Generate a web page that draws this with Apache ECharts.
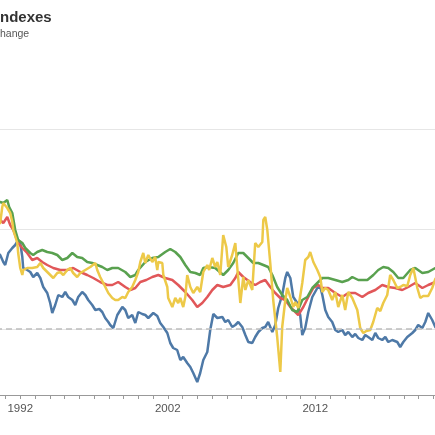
<!DOCTYPE html>
<html>
<head>
<meta charset="utf-8">
<script src="https://cdn.jsdelivr.net/npm/echarts@6/dist/echarts.min.js"></script>
<style>
  html, body { margin: 0; padding: 0; overflow: hidden; background: #fff; }
  /* the chart is wider than the window, its left edge is cut off like the reference */
  #chart { position: absolute; left: -60px; top: 0; width: 520px; height: 435px; }
</style>
</head>
<body>
<div id="chart"></div>
<script>
  // texts
  const titleText = "Consumer Price Indexes";
  const subText = "12-month percent change";
  const labelYears = [1992, 2002, 2012];

  // [year, percent] per series
  const blueData = [
    [1990.31,1.58],[1990.64,1.48],[1990.85,1.34],[1990.98,1.28],[1991.19,1.52],[1991.46,1.62],[1991.66,1.68],[1991.86,1.78],
    [1992.00,1.72],[1992.14,1.44],[1992.20,1.22],[1992.47,1.18],[1992.68,1.14],[1992.88,1.04],[1993.15,1.12],[1993.36,1.02],
    [1993.56,0.84],[1993.83,0.72],[1994.03,0.52],[1994.17,0.32],[1994.37,0.48],[1994.58,0.68],[1994.85,0.64],[1995.05,0.74],
    [1995.25,0.64],[1995.53,0.58],[1995.73,0.48],[1995.93,0.64],[1996.20,0.74],[1996.41,0.68],[1996.61,0.58],[1996.88,0.48],
    [1997.09,0.38],[1997.36,0.40],[1997.56,0.34],[1997.76,0.22],[1997.97,0.14],[1998.10,0.08],[1998.31,0.02],[1998.58,0.28],
    [1998.92,0.44],[1999.12,0.38],[1999.32,0.22],[1999.59,0.28],[1999.80,0.12],[2000.00,0.34],[2000.27,0.30],[2000.48,0.28],
    [2000.68,0.22],[2001.02,0.32],[2001.29,0.26],[2001.49,0.12],[2001.70,0.04],[2001.97,-0.08],[2002.17,-0.28],[2002.37,-0.38],
    [2002.64,-0.42],[2002.85,-0.62],[2003.05,-0.56],[2003.32,-0.68],[2003.53,-0.76],[2003.73,-0.88],[2004.00,-1.06],[2004.20,-0.88],
    [2004.41,-0.62],[2004.68,-0.46],[2004.88,-0.02],[2005.09,0.30],[2005.36,0.22],[2005.70,0.24],[2005.90,0.14],[2006.10,0.18],
    [2006.37,0.04],[2006.58,0.08],[2006.78,0.14],[2007.05,0.04],[2007.26,-0.12],[2007.46,-0.26],[2007.73,-0.28],[2007.93,-0.16],
    [2008.14,-0.06],[2008.41,0.02],[2008.61,0.04],[2008.81,0.14],[2009.09,-0.06],[2009.29,0.08],[2009.49,0.42],[2009.76,0.68],
    [2009.97,1.02],[2010.10,1.14],[2010.31,1.02],[2010.51,0.64],[2010.78,0.52],[2010.98,0.28],[2011.12,-0.12],[2011.32,0.02],
    [2011.53,0.34],[2011.80,0.64],[2012.14,0.82],[2012.34,0.84],[2012.48,0.68],[2012.68,0.38],[2012.88,0.24],[2013.15,0.14],
    [2013.36,-0.02],[2013.56,-0.06],[2013.83,-0.02],[2014.03,-0.12],[2014.24,-0.06],[2014.51,-0.16],[2014.71,-0.10],[2014.92,-0.18],
    [2015.19,-0.22],[2015.39,-0.12],[2015.59,-0.16],[2015.87,-0.22],[2016.07,-0.08],[2016.27,-0.18],[2016.54,-0.22],[2016.75,-0.16],
    [2016.95,-0.26],[2017.22,-0.22],[2017.56,-0.26],[2017.76,-0.36],[2017.97,-0.26],[2018.24,-0.16],[2018.58,-0.08],[2018.78,-0.02],
    [2018.98,0.08],[2019.26,0.02],[2019.46,0.14],[2019.66,0.32],[2019.93,0.18],[2020.14,0.04],[2020.48,-0.06]
  ];
  const redData = [
    [1990.31,2.14],[1990.64,2.18],[1990.85,2.12],[1991.12,2.24],[1991.32,2.08],[1991.53,1.98],[1991.86,1.72],[1992.14,1.62],
    [1992.47,1.52],[1992.81,1.38],[1993.15,1.42],[1993.49,1.34],[1993.83,1.28],[1994.24,1.22],[1994.71,1.18],[1995.19,1.18],
    [1995.59,1.22],[1996.07,1.14],[1996.54,1.08],[1996.95,1.02],[1997.42,0.94],[1997.90,0.88],[1998.24,0.88],[1998.64,0.94],
    [1999.12,0.84],[1999.46,0.78],[1999.80,0.82],[2000.14,0.94],[2000.54,0.98],[2000.95,1.04],[2001.36,1.08],[2001.83,1.02],
    [2002.31,0.98],[2002.71,0.88],[2003.19,0.74],[2003.66,0.58],[2004.00,0.44],[2004.34,0.52],[2004.68,0.64],[2005.02,0.78],
    [2005.36,0.88],[2005.76,0.84],[2006.24,0.88],[2006.58,1.02],[2006.78,1.14],[2007.12,1.04],[2007.59,0.94],[2007.93,0.88],
    [2008.27,0.94],[2008.61,0.98],[2008.95,0.84],[2009.29,0.72],[2009.63,0.62],[2009.97,0.58],[2010.31,0.44],[2010.65,0.34],
    [2010.85,0.28],[2011.19,0.44],[2011.53,0.64],[2011.87,0.82],[2012.20,0.88],[2012.48,0.82],[2012.88,0.82],[2013.36,0.72],
    [2013.83,0.64],[2014.24,0.72],[2014.71,0.72],[2015.19,0.64],[2015.59,0.72],[2016.07,0.78],[2016.54,0.88],[2016.95,0.84],
    [2017.42,0.82],[2017.90,0.78],[2018.31,0.84],[2018.78,0.92],[2019.26,0.82],[2019.66,0.88],[2020.14,0.94],[2020.48,0.94]
  ];
  const greenData = [
    [1990.31,2.48],[1990.64,2.54],[1990.85,2.52],[1991.12,2.58],[1991.25,2.44],[1991.46,2.32],[1991.66,1.98],[1991.86,1.78],
    [1992.14,1.72],[1992.34,1.62],[1992.68,1.52],[1992.88,1.48],[1993.15,1.54],[1993.49,1.58],[1993.83,1.54],[1994.17,1.52],
    [1994.51,1.48],[1994.85,1.38],[1995.19,1.42],[1995.53,1.52],[1995.86,1.44],[1996.20,1.42],[1996.54,1.34],[1996.88,1.32],
    [1997.22,1.28],[1997.56,1.24],[1997.90,1.18],[1998.24,1.22],[1998.64,1.22],[1999.12,1.14],[1999.46,1.04],[1999.80,1.08],
    [2000.00,1.18],[2000.48,1.34],[2000.95,1.42],[2001.36,1.44],[2001.83,1.54],[2002.17,1.60],[2002.51,1.54],[2002.85,1.44],
    [2003.19,1.28],[2003.53,1.14],[2003.87,1.12],[2004.20,1.08],[2004.41,1.22],[2004.75,1.24],[2005.22,1.22],[2005.76,1.08],
    [2006.10,1.18],[2006.44,1.32],[2006.78,1.52],[2007.12,1.52],[2007.46,1.42],[2007.80,1.32],[2008.14,1.32],[2008.48,1.28],
    [2008.81,1.24],[2009.09,1.08],[2009.42,0.84],[2009.76,0.68],[2010.10,0.58],[2010.44,0.38],[2010.78,0.34],[2011.12,0.58],
    [2011.46,0.64],[2011.80,0.82],[2012.14,0.92],[2012.48,1.02],[2012.88,1.02],[2013.36,0.98],[2013.83,0.94],[2014.24,0.98],
    [2014.51,1.04],[2014.92,0.98],[2015.53,0.98],[2015.94,1.08],[2016.27,1.18],[2016.61,1.24],[2016.95,1.22],[2017.29,1.14],
    [2017.63,1.02],[2017.97,1.02],[2018.44,1.18],[2018.78,1.22],[2019.26,1.12],[2019.66,1.14],[2020.14,1.22],[2020.48,1.24]
  ];
  const yellowData = [
    [1990.31,2.08],[1990.64,2.12],[1990.78,2.44],[1990.85,2.52],[1991.12,2.42],[1991.32,2.32],[1991.46,2.14],[1991.53,1.98],
    [1991.80,1.72],[1991.86,1.52],[1992.00,1.22],[1992.14,1.08],[1992.20,1.18],[1992.47,1.22],[1992.81,1.22],[1993.15,1.24],
    [1993.36,1.32],[1993.56,1.22],[1993.90,1.12],[1994.24,1.02],[1994.51,1.12],[1994.71,1.14],[1994.92,1.08],[1995.19,1.18],
    [1995.39,1.22],[1995.59,1.12],[1995.86,1.04],[1996.07,1.12],[1996.41,1.18],[1996.75,1.24],[1997.09,1.32],[1997.22,1.18],
    [1997.42,1.04],[1997.70,0.88],[1997.97,0.72],[1998.24,0.62],[1998.44,0.58],[1998.64,0.58],[1998.92,0.64],[1999.12,0.62],
    [1999.32,0.74],[1999.59,0.84],[1999.80,0.98],[2000.00,1.14],[2000.14,1.34],[2000.34,1.52],[2000.48,1.32],[2000.68,1.48],
    [2000.95,1.34],[2001.15,1.44],[2001.29,1.18],[2001.36,1.34],[2001.63,1.32],[2001.70,1.08],[2001.97,0.84],[2002.03,0.62],
    [2002.31,0.44],[2002.51,0.62],[2002.71,0.52],[2002.85,0.62],[2003.05,0.44],[2003.19,0.64],[2003.32,1.08],[2003.53,0.84],
    [2003.73,0.72],[2004.00,0.84],[2004.20,0.74],[2004.41,1.14],[2004.68,1.28],[2004.81,1.18],[2005.02,1.42],[2005.22,1.24],
    [2005.36,1.34],[2005.56,1.08],[2005.76,1.88],[2005.97,1.64],[2006.10,1.24],[2006.37,1.48],[2006.58,1.72],[2006.71,1.24],
    [2006.92,0.52],[2007.12,1.04],[2007.26,0.78],[2007.46,0.98],[2007.73,0.78],[2007.93,1.72],[2008.14,1.64],[2008.41,1.74],
    [2008.48,2.18],[2008.61,2.24],[2008.75,1.98],[2008.95,1.32],[2009.15,0.58],[2009.42,-0.16],[2009.63,-0.86],[2009.76,0.04],
    [2009.97,0.58],[2010.10,0.82],[2010.31,0.64],[2010.51,0.44],[2010.65,0.54],[2010.85,0.42],[2011.12,0.92],[2011.32,1.38],
    [2011.53,1.44],[2011.66,1.54],[2011.87,1.34],[2012.14,1.18],[2012.34,1.04],[2012.48,0.74],[2012.68,0.82],[2012.88,0.78],
    [2013.15,0.58],[2013.36,0.74],[2013.56,0.44],[2013.83,0.68],[2014.03,0.38],[2014.24,0.74],[2014.51,0.62],[2014.85,0.38],
    [2015.05,0.02],[2015.26,-0.08],[2015.46,-0.04],[2015.73,-0.02],[2015.93,0.14],[2016.20,0.42],[2016.41,0.36],[2016.61,0.52],
    [2016.88,0.68],[2017.08,1.08],[2017.29,0.98],[2017.56,0.82],[2017.76,0.84],[2017.97,0.88],[2018.24,0.86],[2018.44,1.08],
    [2018.65,1.22],[2018.92,0.82],[2019.12,0.62],[2019.32,0.66],[2019.66,0.66],[2019.93,0.82],[2020.14,1.00],[2020.48,1.14]
  ];

  const fontFamily = "Liberation Sans, Arial, sans-serif";
  const cutX = 60; // where the window's left edge falls inside the chart div

  // place the titles so that their first letters fall off the left edge as in the reference
  function textWidth(str, font) {
    let ctx = document.createElement("canvas").getContext("2d");
    ctx.font = font;
    return ctx.measureText(str).width;
  }
  let titleLeft = cutX - textWidth("Consumer Price I", "bold 15px " + fontFamily);
  let subLeft = cutX - textWidth("12-month percent c", "10.5px " + fontFamily);

  let myChart = echarts.init(document.getElementById("chart"));

  function lineSeries(name, data, color) {
    return {
      name: name,
      type: "line",
      data: data,
      symbol: "none",
      lineStyle: { color: color, width: 2.5 },
      itemStyle: { color: color }
    };
  }

  let series = [
    lineSeries("Blue", blueData, "#4e79a7"),
    lineSeries("Red", redData, "#e15759"),
    lineSeries("Green", greenData, "#59a14f"),
    lineSeries("Yellow", yellowData, "#edc948")
  ];
  // dashed zero line
  series[0].markLine = {
    silent: true,
    symbol: "none",
    label: { show: false },
    lineStyle: { color: "#bdbdbd", type: [6, 4], width: 1.5 },
    data: [{ yAxis: 0 }]
  };

  let option = {
    animation: false,
    textStyle: { fontFamily: fontFamily },
    title: [
      {
        text: titleText, left: titleLeft, top: 10, padding: 0,
        textStyle: { fontSize: 15, fontWeight: "bold", color: "#333", fontFamily: fontFamily }
      },
      {
        text: subText, left: subLeft, top: 29, padding: 0,
        textStyle: { fontSize: 10.5, fontWeight: "normal", color: "#555", fontFamily: fontFamily }
      }
    ],
    grid: { left: 36, right: 12, top: 129, bottom: 40 },
    xAxis: {
      type: "value",
      min: 1989,
      max: 2021,
      interval: 1,
      splitLine: { show: false },
      axisLine: { onZero: false, lineStyle: { color: "#999", width: 1 } },
      axisTick: { length: 4, lineStyle: { color: "#999" } },
      axisLabel: {
        color: "#555",
        fontSize: 11.5,
        margin: 8,
        formatter: v => labelYears.includes(v) ? String(v) : ""
      }
    },
    yAxis: {
      type: "value",
      min: -1.32,
      max: 4,
      splitNumber: 3,
      axisLine: { show: false },
      axisTick: { show: false },
      axisLabel: { show: false },
      splitLine: { showMinLine: false, lineStyle: { color: "#e6e6e6", width: 1 } }
    },
    series: series
  };

  myChart.setOption(option);
</script>
</body>
</html>
